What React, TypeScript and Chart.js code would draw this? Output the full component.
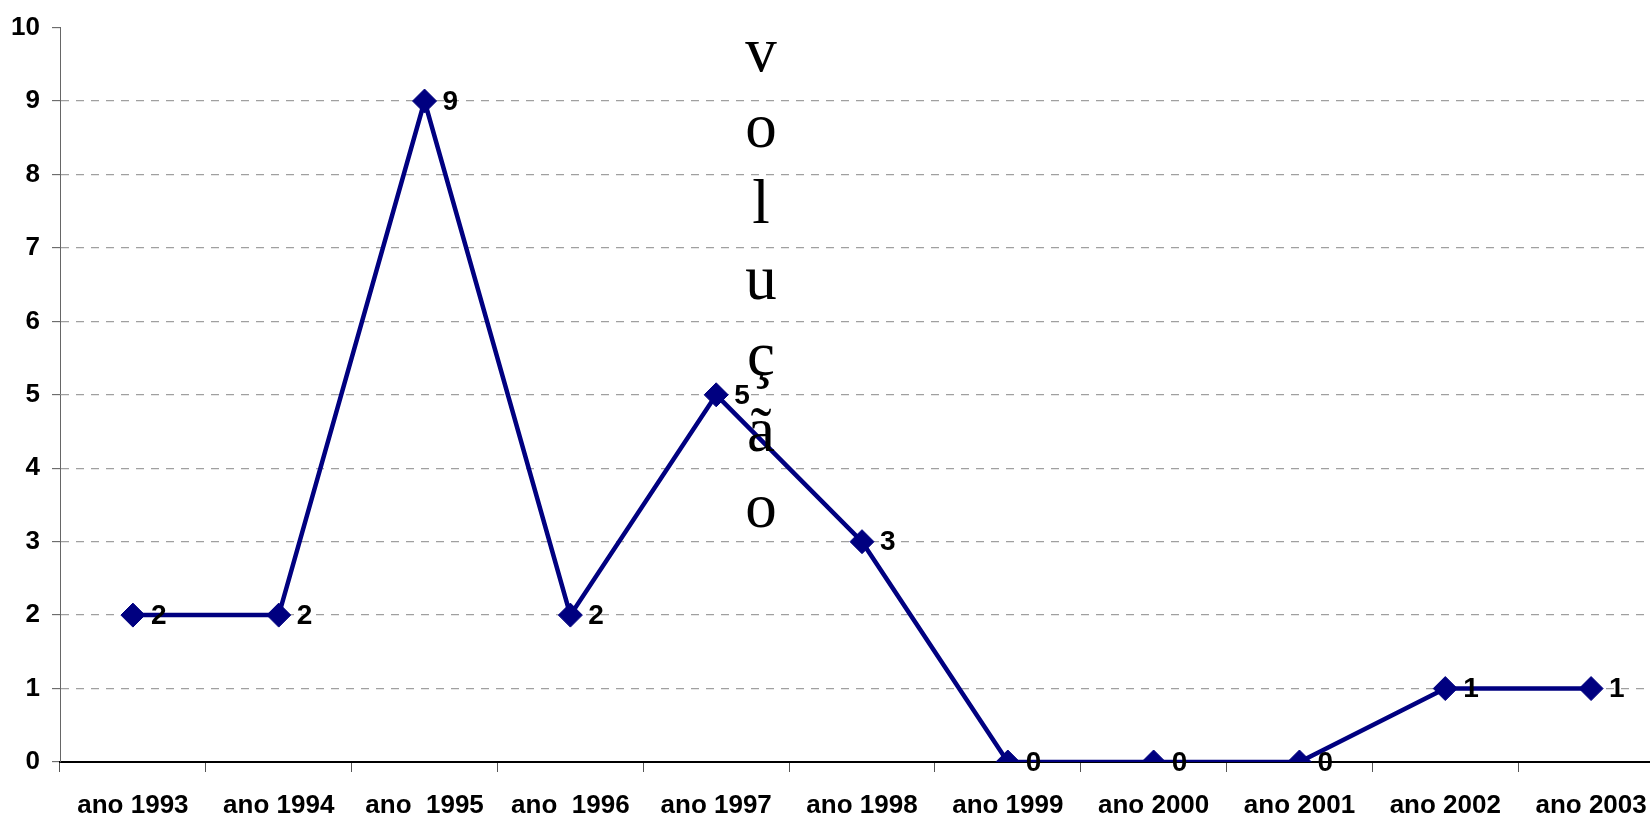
import React, { useEffect, useRef } from "react";
import { Chart, registerables } from "chart.js";

Chart.register(...registerables);

const categories = [
  "ano 1993",
  "ano 1994",
  "ano  1995",
  "ano  1996",
  "ano 1997",
  "ano 1998",
  "ano 1999",
  "ano 2000",
  "ano 2001",
  "ano 2002",
  "ano 2003",
];
const values = [2, 2, 9, 2, 5, 3, 0, 0, 0, 1, 1];
const yTicks = [0, 1, 2, 3, 4, 5, 6, 7, 8, 9, 10];
const titleLetters = ["v", "o", "l", "u", "ç", "ã", "o"];

const LINE_COLOR = "#000080";

const labelPlugin = {
  id: "pointLabels",
  afterDatasetsDraw(chart: any) {
    const ctx = chart.ctx;
    const meta = chart.getDatasetMeta(0);
    ctx.save();
    ctx.font = "bold 28px 'Liberation Sans', Arial, sans-serif";
    ctx.fillStyle = "#000";
    ctx.textAlign = "left";
    ctx.textBaseline = "middle";
    meta.data.forEach((pt: any, i: number) => {
      ctx.fillText(String(values[i]), pt.x + 18, pt.y + 1);
    });
    ctx.restore();
  },
};

const titlePlugin = {
  id: "verticalTitle",
  afterDraw(chart: any) {
    const ctx = chart.ctx;
    ctx.save();
    ctx.font = "63px 'Liberation Serif', 'Times New Roman', serif";
    ctx.fillStyle = "#000";
    ctx.textAlign = "center";
    ctx.textBaseline = "alphabetic";
    const x = 761;
    const top = 71;
    const step = 76;
    titleLetters.forEach((ch, i) => {
      ctx.fillText(ch, x, top + step * i);
    });
    ctx.restore();
  },
};

export default function App() {
  const ref = useRef<HTMLCanvasElement | null>(null);

  useEffect(() => {
    if (!ref.current) return;
    const chart = new Chart(ref.current, {
      type: "line",
      data: {
        labels: categories,
        datasets: [
          {
            data: values,
            borderColor: LINE_COLOR,
            backgroundColor: LINE_COLOR,
            borderWidth: 4.5,
            tension: 0,
            pointStyle: "rectRot",
            pointRadius: 12,
            pointBackgroundColor: LINE_COLOR,
            pointBorderColor: LINE_COLOR,
            pointBorderWidth: 1,
            fill: false,
          },
        ],
      },
      options: {
        animation: false,
        responsive: false,
        maintainAspectRatio: false,
        layout: { padding: { top: 24, right: 16, left: 0, bottom: 0 } },
        plugins: {
          legend: { display: false },
          title: { display: false },
          tooltip: { enabled: false },
        },
        scales: {
          x: {
            type: "category",
            offset: true,
            grid: {
              offset: true,
              drawOnChartArea: false,
              drawTicks: true,
              tickLength: 10,
              tickColor: "#555",
              tickWidth: 1,
            },
            border: { display: true, color: "#000", width: 2 },
            ticks: {
              color: "#000",
              padding: 18,
              maxRotation: 0,
              autoSkip: false,
              font: { family: "'Liberation Sans', Arial, sans-serif", size: 26, weight: "bold" },
            },
            afterFit(scale: any) {
              scale.height = 55;
            },
          },
          y: {
            type: "linear",
            min: 0,
            max: 10,
            afterBuildTicks(scale: any) {
              scale.ticks = yTicks.map((v) => ({ value: v }));
            },
            grid: {
              color: (c: any) =>
                c.tick && (c.tick.value === 10 || c.tick.value === 0) ? "rgba(0,0,0,0)" : "#a0a0a0",
              lineWidth: 1.3,
              drawTicks: true,
              tickLength: 8,
              tickColor: "#555",
              tickWidth: 1,
              tickBorderDash: [],
            },
            border: { display: true, color: "#666", width: 1, dash: [8, 7] },
            ticks: {
              color: "#000",
              padding: 12,
              font: { family: "'Liberation Sans', Arial, sans-serif", size: 26, weight: "bold" },
            },
            afterFit(scale: any) {
              scale.width = 60;
            },
          },
        },
      },
      plugins: [labelPlugin, titlePlugin],
    });
    return () => chart.destroy();
  }, []);

  return (
    <div
      style={{
        position: "fixed",
        left: 0,
        top: 0,
        width: 1650,
        height: 817,
        overflow: "hidden",
        background: "#fff",
      }}
    >
      <canvas ref={ref} width={1680} height={817} style={{ display: "block" }} />
    </div>
  );
}
